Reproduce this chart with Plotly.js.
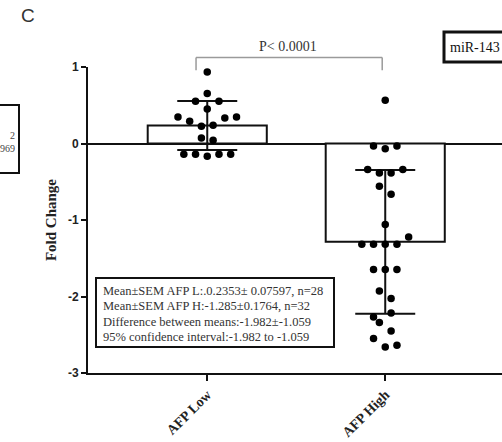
<!DOCTYPE html>
<html>
<head>
<meta charset="utf-8">
<script src="https://cdn.plot.ly/plotly-3.0.1.min.js"></script>
<style>
  html, body { margin: 0; padding: 0; background: #fff; }
  #chart { width: 502px; height: 442px; }
</style>
</head>
<body>
<div id="chart"></div>
<script>
// ---- data ----
const categories = ['AFP Low', 'AFP High'];
const means = [0.2353, -1.285];
const sdValues = [0.32, 0.94];

const lowValues = [0.935, 0.652, 0.552, 0.552, 0.451, 0.346, 0.290, 0.333, 0.346,
  0.225, 0.238, 0.072, 0.042, -0.141, -0.141, -0.167, -0.141, -0.141];
const lowJitter = [0, 0, -2, 2, 0, -5, -3, 3, 5, -1, 1, -1, 1, -4, -2, 0, 2, 4];

const highValues = [0.565, -0.033, -0.067, -0.033, -0.341, -0.386, -0.386, -0.341,
  -0.559, -0.664, -1.060, -1.222, -1.318, -1.318, -1.318, -1.318, -1.648, -1.648,
  -1.648, -1.928, -2.027, -2.216, -2.268, -2.341, -2.451, -2.550, -2.660, -2.638];
const highJitter = [0, -2, 0, 2, -3, -1, 1, 3, -1, 1, 0, 4, -4, -2, 0, 2, -2, 0, 2,
  -1, 1, 1, -2, -1, 1, -2, 0, 2];

const statLines = [
  'Mean±SEM AFP L:.0.2353± 0.07597, n=28',
  'Mean±SEM AFP H:-1.285±0.1764, n=32',
  'Difference between means:-1.982±-1.059',
  '95% confidence interval:-1.982 to -1.059'
];
const pText = 'P< 0.0001';
const panelLabel = 'C';
const legendText = 'miR-143';
const yTitle = 'Fold Change';
const yTicks = [1, 0, -1, -2, -3];

// ---- drawing ----
const halfStep = 0.0329; // half a dot width in category units
const xIdx = categories.map((c, i) => i);

const serif = 'Liberation Serif, Times New Roman, serif';
const sans = 'Liberation Sans, Arial, sans-serif';

// pixel helpers for paper coordinates (plot area: left 88, width 414, bottom 373, height 306)
const px = (x) => (x - 88) / 414;
const py = (y) => (373 - y) / 306;

const traces = [
  {
    type: 'bar',
    x: xIdx,
    y: means,
    width: 0.669,
    marker: { color: '#ffffff', line: { color: '#111', width: 2 } },
    error_y: { type: 'data', array: sdValues, visible: true, color: '#111', thickness: 2, width: 30 },
    hoverinfo: 'skip',
    showlegend: false
  },
  {
    type: 'scatter',
    mode: 'markers',
    x: lowValues.map((v, i) => 0 + lowJitter[i] * halfStep),
    y: lowValues,
    marker: { color: '#000', size: 7.5 },
    showlegend: false,
    cliponaxis: false
  },
  {
    type: 'scatter',
    mode: 'markers',
    x: highValues.map((v, i) => 1 + highJitter[i] * halfStep),
    y: highValues,
    marker: { color: '#000', size: 7.5 },
    showlegend: false,
    cliponaxis: false
  }
];

const statAnnotations = statLines.map((t, i) => ({
  xref: 'paper', yref: 'paper', x: px(101), y: py(291 + i * 15.3),
  xanchor: 'left', yanchor: 'middle', text: t, showarrow: false,
  font: { family: serif, size: 12.5, color: '#333' }
}));

const layout = {
  width: 502,
  height: 442,
  margin: { l: 88, r: 0, t: 67, b: 69 },
  paper_bgcolor: '#fff',
  plot_bgcolor: '#fff',
  showlegend: false,
  xaxis: {
    type: 'linear',
    range: [-0.670, 1.656],
    tickmode: 'array',
    tickvals: xIdx,
    ticktext: categories,
    tickangle: -45,
    ticks: 'outside',
    ticklen: 6,
    tickwidth: 2,
    tickcolor: '#111',
    showline: true,
    linecolor: '#111',
    linewidth: 2,
    showgrid: false,
    zeroline: false,
    tickfont: { family: serif, size: 14, color: '#222', weight: 'bold' }
  },
  yaxis: {
    range: [-3, 1],
    tickmode: 'array',
    tickvals: yTicks,
    ticktext: yTicks.map(String),
    ticks: 'outside',
    ticklen: 5,
    tickwidth: 2,
    tickcolor: '#111',
    showline: true,
    linecolor: '#111',
    linewidth: 2,
    showgrid: false,
    zeroline: true,
    zerolinecolor: '#111',
    zerolinewidth: 2,
    tickfont: { family: sans, size: 12, color: '#222', weight: 'bold' },
    title: { text: yTitle, font: { family: serif, size: 15, color: '#222', weight: 'bold' }, standoff: 8 }
  },
  shapes: [
    // significance bracket
    { type: 'line', xref: 'x', yref: 'paper', x0: -0.063, x1: 0.983, y0: 1.031, y1: 1.031, line: { color: '#9a9a9a', width: 1.5 } },
    { type: 'line', xref: 'x', yref: 'paper', x0: -0.063, x1: -0.063, y0: 1.031, y1: 0.989, line: { color: '#9a9a9a', width: 1.5 } },
    { type: 'line', xref: 'x', yref: 'paper', x0: 0.983, x1: 0.983, y0: 1.031, y1: 0.989, line: { color: '#9a9a9a', width: 1.5 } },
    // statistics box
    { type: 'rect', xref: 'paper', yref: 'paper', x0: px(96), x1: px(334), y0: py(347), y1: py(278), line: { color: '#111', width: 2 }, fillcolor: '#fff', layer: 'above' },
    // legend-like box (cut off at the right)
    { type: 'rect', xref: 'paper', yref: 'paper', x0: px(444), x1: 1.2, y0: py(62), y1: py(32), line: { color: '#111', width: 3 }, fillcolor: 'rgba(0,0,0,0)' },
    // fragment of neighbouring panel's box
    { type: 'rect', xref: 'paper', yref: 'paper', x0: px(-20), x1: px(19), y0: py(173), y1: py(105), line: { color: '#111', width: 2 }, fillcolor: 'rgba(0,0,0,0)' }
  ],
  annotations: statAnnotations.concat([
    {
      xref: 'paper', yref: 'paper', x: px(288), y: py(46.7),
      xanchor: 'center', yanchor: 'middle', text: pText, showarrow: false,
      font: { family: serif, size: 14, color: '#333' }
    },
    {
      xref: 'paper', yref: 'paper', x: px(19), y: py(16),
      xanchor: 'left', yanchor: 'middle', text: panelLabel, showarrow: false,
      font: { family: sans, size: 19, color: '#333' }
    },
    {
      xref: 'paper', yref: 'paper', x: px(17), y: py(135),
      xanchor: 'right', yanchor: 'middle', text: '2', showarrow: false,
      font: { family: serif, size: 10, color: '#444' }
    },
    {
      xref: 'paper', yref: 'paper', x: px(17), y: py(148),
      xanchor: 'right', yanchor: 'middle', text: '969', showarrow: false,
      font: { family: serif, size: 10, color: '#444' }
    },
    {
      xref: 'paper', yref: 'paper', x: px(448), y: py(47),
      xanchor: 'left', yanchor: 'middle', text: legendText, showarrow: false,
      font: { family: serif, size: 14, color: '#111' }
    }
  ])
};

Plotly.newPlot('chart', traces, layout, { staticPlot: true, displayModeBar: false });
</script>
</body>
</html>
